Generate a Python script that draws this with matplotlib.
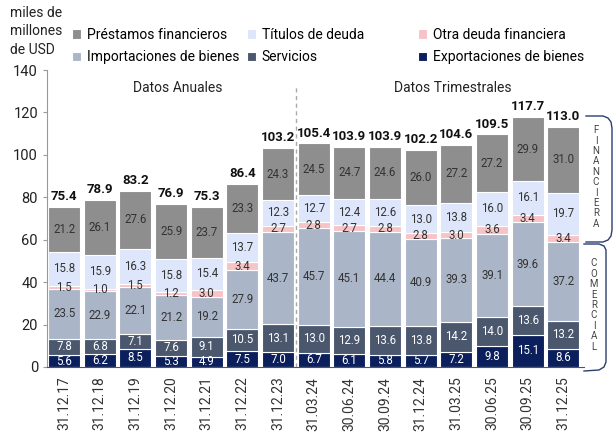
import numpy as np
import matplotlib
matplotlib.use('Agg')
import matplotlib.pyplot as plt
from matplotlib.lines import Line2D

plt.rcParams['font.family'] = ['Roboto', 'DejaVu Sans']

################################################################
# data (miles de millones de USD)
fechas = ['31.12.17', '31.12.18', '31.12.19', '31.12.20', '31.12.21', '31.12.22',
          '31.12.23', '31.03.24', '30.06.24', '30.09.24', '31.12.24', '31.03.25',
          '30.06.25', '30.09.25', '31.12.25']
exportaciones = [5.6, 6.2, 8.5, 5.3, 4.9, 7.5, 7.0, 6.7, 6.1, 5.8, 5.7, 7.2, 9.8, 15.1, 8.6]
servicios = [7.8, 6.8, 7.1, 7.6, 9.1, 10.5, 13.1, 13.0, 12.9, 13.6, 13.8, 14.2, 14.0, 13.6, 13.2]
importaciones = [23.5, 22.9, 22.1, 21.2, 19.2, 27.9, 43.7, 45.7, 45.1, 44.4, 40.9, 39.3, 39.1, 39.6, 37.2]
otra_deuda = [1.5, 1.0, 1.5, 1.2, 3.0, 3.4, 2.7, 2.8, 2.7, 2.8, 2.8, 3.0, 3.6, 3.4, 3.4]
titulos = [15.8, 15.9, 16.3, 15.8, 15.4, 13.7, 12.3, 12.7, 12.4, 12.6, 13.0, 13.8, 16.0, 16.1, 19.7]
prestamos = [21.2, 26.1, 27.6, 25.9, 23.7, 23.3, 24.3, 24.5, 24.7, 24.6, 26.0, 27.2, 27.2, 29.9, 31.0]
totales = [75.4, 78.9, 83.2, 76.9, 75.3, 86.4, 103.2, 105.4, 103.9, 103.9, 102.2, 104.6, 109.5, 117.7, 113.0]

series = [
    ('Exportaciones de bienes', exportaciones, '#0b1f5c', 'white'),
    ('Servicios', servicios, '#4a576d', 'white'),
    ('Importaciones de bienes', importaciones, '#abb5c8', '#333333'),
    ('Otra deuda financiera', otra_deuda, '#f8c3c6', '#333333'),
    ('Títulos de deuda', titulos, '#dde6fa', '#333333'),
    ('Préstamos financieros', prestamos, '#8e8e8e', '#333333'),
]
################################################################

W, H = 613, 432
fig = plt.figure(figsize=(W / 100, H / 100), dpi=100)
ax = fig.add_axes([47 / W, 1 - 367 / H, (584 - 47) / W, (367 - 70) / H])

x = np.arange(len(fechas))
bottom = np.zeros(len(fechas))
handles = {}
for name, vals, col, tcol in series:
    vals = np.array(vals)
    bars = ax.bar(x, vals, 0.9, bottom=bottom, color=col, edgecolor='white',
                  linewidth=0.8, label=name)
    ax.bar_label(bars, labels=[f'{v:.1f}' for v in vals], label_type='center',
                 fontsize=8.3, color=tcol)
    handles[name] = bars
    bottom += vals

for i, t in enumerate(totales):
    ax.text(x[i], t + 1.8, f'{t:.1f}', ha='center', va='bottom',
            fontsize=9.5, fontweight='bold', color='#111111')

ax.set_xlim(-0.48, len(fechas) - 0.42)
ax.set_ylim(0, 140)
ax.set_yticks(np.arange(0, 141, 20))
ax.set_xticks(x)
ax.set_xticklabels(fechas, rotation=90, fontsize=10, color='#333333')
ax.tick_params(axis='x', length=0, pad=7)
ax.tick_params(axis='y', labelsize=10.5, colors='#222222', length=3, color='#999999')
for s in ['top', 'right']:
    ax.spines[s].set_visible(False)
ax.spines['left'].set_color('#999999')
ax.spines['bottom'].set_color('#555555')

# division anual / trimestral
ax.plot([6.5, 6.5], [0, 132], ls=(0, (3, 2.5)), color='#aaaaaa', lw=1, clip_on=False)
ax.text(3.2, 131.5, 'Datos Anuales', ha='center', va='center', fontsize=10, color='#222222')
ax.text(10.9, 131.5, 'Datos Trimestrales', ha='center', va='center', fontsize=10, color='#222222')

fig.text(10 / W, 1 - 6 / H, 'miles de\nmillones\nde USD', ha='left', va='top',
         fontsize=10, color='#222222', linespacing=1.4)

# leyenda en tres columnas
cols = [(['Préstamos financieros', 'Importaciones de bienes'], 72),
        (['Títulos de deuda', 'Servicios'], 247),
        (['Otra deuda financiera', 'Exportaciones de bienes'], 418)]
for names, px in cols:
    fig.legend([handles[n] for n in names], names, loc='upper left',
               bbox_to_anchor=(px / W, 1 - 28 / H), frameon=False, fontsize=10,
               handlelength=0.65, handleheight=0.65, handletextpad=0.4,
               labelspacing=0.6, borderpad=0, borderaxespad=0)


# llaves laterales (financiera / comercial)
def pline(pts):
    xs = [p[0] / W for p in pts]
    ys = [1 - p[1] / H for p in pts]
    fig.add_artist(Line2D(xs, ys, color='#2b3e6e', lw=1))


pline([(586, 116), (603, 116), (608, 118), (611, 122), (612, 128),
       (612, 230), (611, 236), (608, 240), (603, 242), (586, 242)])
pline([(584, 244), (599, 244), (604, 246), (606, 250),
       (606, 362), (604, 367), (599, 370), (584, 371)])
fig.text(596 / W, 1 - 177 / H, '\n'.join('FINANCIERA'), ha='center', va='center',
         fontsize=7, color='#444444', linespacing=1.05)
fig.text(594 / W, 1 - 305 / H, '\n'.join('COMERCIAL'), ha='center', va='center',
         fontsize=7, color='#444444', linespacing=1.05)

fig.savefig('out.png', dpi=100)
